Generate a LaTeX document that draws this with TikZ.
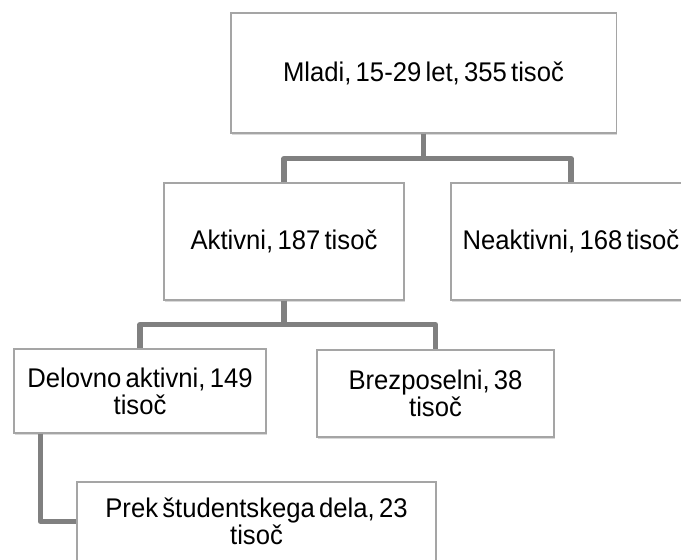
\documentclass[tikz,border=0pt]{standalone}
\usepackage{fontspec}
\setmainfont[FakeStretch=0.95, WordSpace=0.6]{Liberation Sans}
\usetikzlibrary{shadows}

\definecolor{boxline}{RGB}{165,165,165}
\definecolor{linkgray}{RGB}{128,128,128}

\begin{document}
\begin{tikzpicture}[x=0.025cm, y=-0.025cm,
    box/.style={draw=boxline, line width=0.8pt, fill=white, align=center, inner sep=0pt,
      font=\fontsize{19.2}{19.4}\selectfont,
      drop shadow={opacity=0.3, shadow xshift=0.8pt, shadow yshift=-1.4pt}},
    link/.style={draw=linkgray, line width=3.6pt, line join=round}]
      \useasboundingbox (0, 0) rectangle (681, 559);

      % top level
      \node[box, minimum width=9.625cm, minimum height=3cm] (mladi) at (423.5, 73) {Mladi, 15-29 let, 355 tisoč};

      \node[box, minimum width=6cm, minimum height=2.925cm] (aktivni) at (284, 241.5) {Aktivni, 187 tisoč};
      \node[box, minimum width=6cm, minimum height=2.925cm] (neaktivni) at (571, 241.5) {Neaktivni, 168 tisoč};

      \node[box, minimum width=6.3cm, minimum height=2.1cm] (delovno) at (140, 391) {Delovno aktivni, 149\\tisoč};
      \node[box, minimum width=5.925cm, minimum height=2.175cm] (brezposelni) at (435.5, 393.5) {Brezposelni, 38\\tisoč};

      \node[box, minimum width=8.975cm, minimum height=1.975cm] (prek) at (256.5, 521.5) {Prek študentskega dela, 23\\tisoč};

      % connectors
      \draw[link] (mladi.south) -- ++(0, 25) -| (aktivni.north);
      \draw[link] (mladi.south) -- ++(0, 25) -| (neaktivni.north);
      \draw[link] (aktivni.south) -- ++(0, 24) -| (delovno.north);
      \draw[link] (aktivni.south) -- ++(0, 24) -| (brezposelni.north);
      \draw[link] ([xshift=0.675cm]delovno.south west) |- (prek.west);
\end{tikzpicture}
\end{document}
